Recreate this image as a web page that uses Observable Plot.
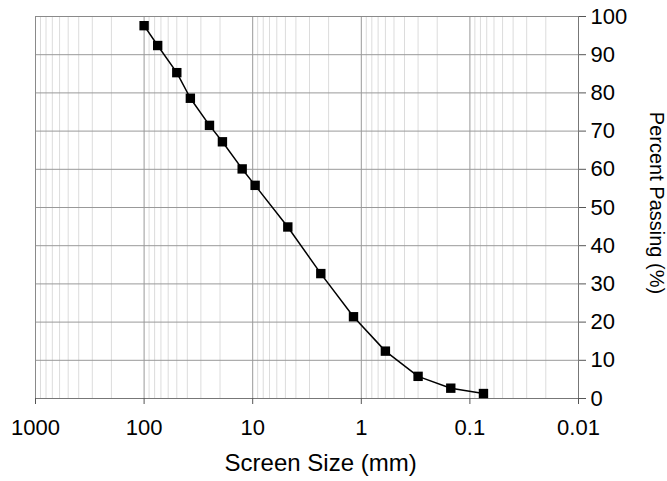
<!DOCTYPE html>
<html>
<head>
<meta charset="utf-8">
<script src="https://cdn.jsdelivr.net/npm/d3@7"></script>
<script src="https://cdn.jsdelivr.net/npm/@observablehq/plot@0.6"></script>
<style>
  html, body { margin: 0; padding: 0; background: #fff; }
  #chart svg { display: block; }
</style>
</head>
<body>
<div id="chart"></div>
<script>
// Sieve analysis data (screen size in mm, percent passing)
const screenSize = [100, 75, 50, 37.5, 25, 19, 12.5, 9.5, 4.75, 2.36, 1.18, 0.6, 0.3, 0.15, 0.075];
const percentPassing = [97.6, 92.4, 85.3, 78.6, 71.5, 67.2, 60.1, 55.8, 44.9, 32.7, 21.4, 12.4, 5.8, 2.7, 1.3];

const xTicks = [1000, 100, 10, 1, 0.1, 0.01];
const minorMultipliers = [2, 3, 4, 5, 6, 7, 8, 9];
const minorDecades = [100, 10, 1, 0.1, 0.01];
const yTicks = [0, 10, 20, 30, 40, 50, 60, 70, 80, 90, 100];

const xTitle = "Screen Size (mm)";
const yTitle = "Percent Passing (%)";

const data = screenSize.map((s, i) => ({size: s, pct: percentPassing[i]}));
const minorTicks = minorDecades.flatMap(d => minorMultipliers.map(m => +(d * m).toPrecision(6)));

const chart = Plot.plot({
  width: 667,
  height: 481,
  marginLeft: 35,
  marginRight: 89,
  marginTop: 16,
  marginBottom: 83,
  style: {fontFamily: "Arial, 'Liberation Sans', sans-serif", fontSize: "22px", color: "black", background: "white"},
  x: {type: "log", domain: [1000, 0.01]},
  y: {domain: [0, 100]},
  marks: [
    Plot.ruleX(minorTicks, {stroke: "#dcdcdc", strokeWidth: 1}),
    Plot.ruleX(xTicks, {stroke: "#999", strokeWidth: 1}),
    Plot.ruleY(yTicks, {stroke: "#999", strokeWidth: 1}),
    Plot.frame({stroke: "#8a8a8a"}),
    Plot.ruleY([0], {stroke: "#777"}),
    Plot.ruleX([0.01], {stroke: "#777"}),
    Plot.axisX({ticks: xTicks, tickFormat: d => String(d), tickSize: 6, tickPadding: 15, stroke: "#555", label: null, fontSize: 22}),
    Plot.axisY({anchor: "right", ticks: yTicks, tickSize: 7, tickPadding: 5, stroke: "#555", label: null, fontSize: 22}),
    Plot.line(data, {x: "size", y: "pct", stroke: "black", strokeWidth: 1.5}),
    Plot.dot(data, {x: "size", y: "pct", symbol: "square", r: 5.3, fill: "black", stroke: "none"}),
    Plot.text([xTitle], {text: d => d, frameAnchor: "bottom", textAnchor: "middle", dx: 13.6, dy: 72, fontSize: 24, fill: "black"}),
    Plot.text([yTitle], {text: d => d, frameAnchor: "right", textAnchor: "middle", dx: 77.5, dy: -4.5, rotate: 90, fontSize: 20, fill: "black"})
  ]
});

document.getElementById("chart").appendChild(chart);
</script>
</body>
</html>
